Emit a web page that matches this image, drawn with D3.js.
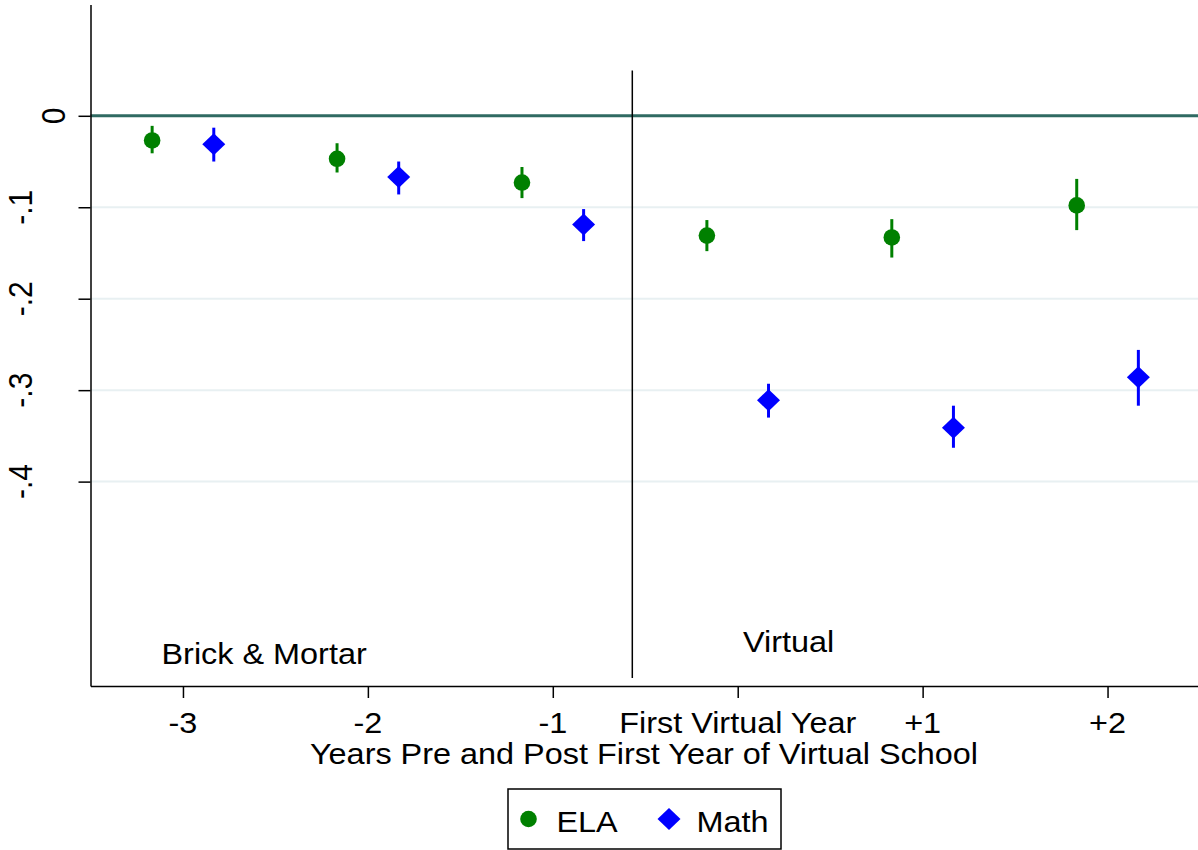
<!DOCTYPE html>
<html>
<head>
<meta charset="utf-8">
<script src="https://cdn.jsdelivr.net/npm/d3@7"></script>
<style>
  html, body { margin: 0; padding: 0; background: #fff; }
  svg { display: block; }
  text { font-family: "Liberation Sans", Arial, Helvetica, sans-serif; fill: #000; }
</style>
</head>
<body>
<svg id="chart" width="1198" height="850"></svg>
<script>
// ---------- data ----------
const periods = [-3, -2, -1, 0, 1, 2];
const periodLabels = ["-3", "-2", "-1", "First Virtual Year", "+1", "+2"];

const elaEst = [-0.027, -0.047, -0.073, -0.131, -0.133, -0.098];
const elaLo  = [-0.041, -0.062, -0.090, -0.148, -0.155, -0.125];
const elaHi  = [-0.011, -0.030, -0.056, -0.114, -0.113, -0.069];

const mathEst = [-0.031, -0.067, -0.119, -0.311, -0.341, -0.286];
const mathLo  = [-0.050, -0.086, -0.137, -0.330, -0.363, -0.317];
const mathHi  = [-0.013, -0.050, -0.102, -0.293, -0.317, -0.256];

const yTicks = [0, -0.1, -0.2, -0.3, -0.4];
const yTickLabels = ["0", "-.1", "-.2", "-.3", "-.4"];

const seriesNames = ["ELA", "Math"];
const dividerAt = -0.57;
const regionLabels = ["Brick & Mortar", "Virtual"];
const xTitle = "Years Pre and Post First Year of Virtual School";

// ---------- layout ----------
const svg = d3.select("#chart");
const mLeft = 90.5, mRight = 1200, mTop = 4.5, mBottom = 686;
const SX = 1.08; // horizontal stretch of text
const FS = 30;

const x = d3.scaleLinear().domain([-3.5, 2.5]).range([mLeft, mRight]);
const y = d3.scaleLinear().domain([0.1217, -0.6235]).range([mTop, mBottom]);
const off = 1 / 6;

const colors = { ELA: "#008000", Math: "#0000ff" };

function stretchedText(g, tx, ty, str, anchor, rotate) {
  return g.append("text")
    .attr("transform", `translate(${tx},${ty}) scale(${SX},1)` + (rotate ? ` rotate(${rotate})` : ""))
    .attr("text-anchor", anchor)
    .attr("font-size", FS)
    .text(str);
}

// gridlines
svg.append("g").selectAll("line")
  .data(yTicks.filter(d => d !== 0))
  .join("line")
  .attr("x1", mLeft).attr("x2", mRight)
  .attr("y1", d => y(d)).attr("y2", d => y(d))
  .attr("stroke", "#e8f0f2").attr("stroke-width", 2);

// zero line
svg.append("line")
  .attr("x1", mLeft).attr("x2", mRight)
  .attr("y1", y(0)).attr("y2", y(0))
  .attr("stroke", "#2f6a62").attr("stroke-width", 3);

// divider
svg.append("line")
  .attr("x1", x(dividerAt)).attr("x2", x(dividerAt))
  .attr("y1", 70.5).attr("y2", 678)
  .attr("stroke", "#000").attr("stroke-width", 1.5);

// y axis
const yAxis = d3.axisLeft(y).tickValues(yTicks).tickSize(12).tickSizeOuter(0).tickFormat("");
const gy = svg.append("g").attr("transform", `translate(${mLeft},0)`).call(yAxis);
gy.select(".domain").attr("stroke", "#000").attr("stroke-width", 1.5);
gy.selectAll(".tick line").attr("stroke", "#000").attr("stroke-width", 1.5);
yTicks.forEach((d, i) => {
  stretchedText(svg, d === 0 ? 65 : 32, y(d), yTickLabels[i], "middle", -90);
});

// x axis
const xAxis = d3.axisBottom(x).tickValues(periods).tickSize(12).tickSizeOuter(0).tickFormat("");
const gx = svg.append("g").attr("transform", `translate(0,${mBottom})`).call(xAxis);
gx.select(".domain").attr("stroke", "#000").attr("stroke-width", 1.5);
gx.selectAll(".tick line").attr("stroke", "#000").attr("stroke-width", 1.5);
periods.forEach((d, i) => {
  stretchedText(svg, x(d), 733, periodLabels[i], "middle");
});

// axis title
stretchedText(svg, 644, 764, xTitle, "middle");

// region labels
stretchedText(svg, 161.5, 664, regionLabels[0], "start");
stretchedText(svg, 743, 651.5, regionLabels[1], "start");

// ---------- series ----------
const diamond = (cx, cy, rx, ry) => `M${cx},${cy - ry}L${cx + rx},${cy}L${cx},${cy + ry}L${cx - rx},${cy}Z`;

function drawSeries(est, lo, hi, name, dx) {
  const g = svg.append("g");
  const data = periods.map((p, i) => ({ p, est: est[i], lo: lo[i], hi: hi[i] }));
  g.selectAll("line.ci").data(data).join("line")
    .attr("class", "ci")
    .attr("x1", d => x(d.p + dx)).attr("x2", d => x(d.p + dx))
    .attr("y1", d => y(d.lo)).attr("y2", d => y(d.hi))
    .attr("stroke", colors[name]).attr("stroke-width", 3);
  if (name === "ELA") {
    g.selectAll("circle").data(data).join("circle")
      .attr("cx", d => x(d.p + dx)).attr("cy", d => y(d.est))
      .attr("r", 8.3).attr("fill", colors[name]);
  } else {
    g.selectAll("path").data(data).join("path")
      .attr("d", d => diamond(x(d.p + dx), y(d.est), 11.5, 11))
      .attr("fill", colors[name]);
  }
}
drawSeries(elaEst, elaLo, elaHi, "ELA", -off);
drawSeries(mathEst, mathLo, mathHi, "Math", off);

// ---------- legend ----------
const lg = svg.append("g");
lg.append("rect").attr("x", 508).attr("y", 789).attr("width", 273).attr("height", 60)
  .attr("fill", "#fff").attr("stroke", "#000").attr("stroke-width", 1.5);
lg.append("circle").attr("cx", 528.5).attr("cy", 819).attr("r", 8.3).attr("fill", colors.ELA);
lg.append("path").attr("d", diamond(669, 819, 11.5, 11)).attr("fill", colors.Math);
stretchedText(lg, 556.5, 831.5, seriesNames[0], "start");
stretchedText(lg, 696.5, 831.5, seriesNames[1], "start");
</script>
</body>
</html>
